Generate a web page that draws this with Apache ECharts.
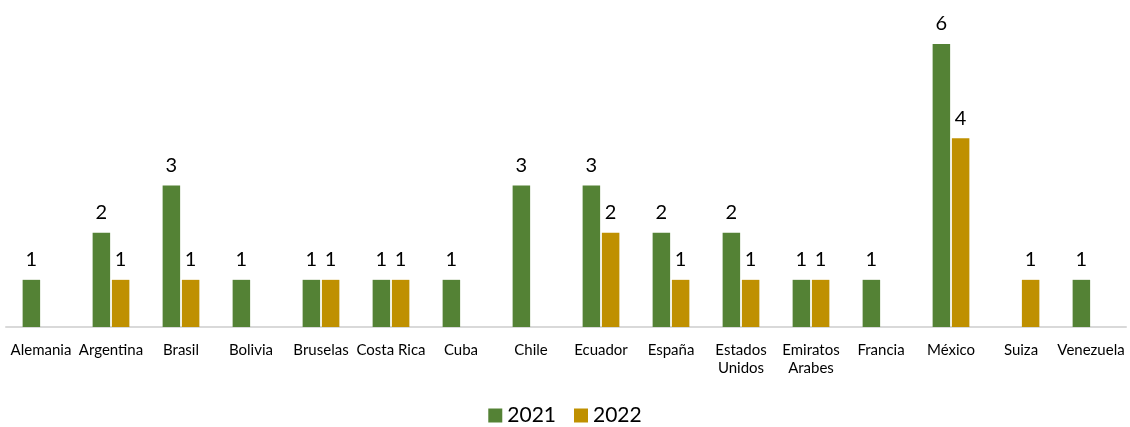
<!DOCTYPE html>
<html>
<head>
<meta charset="utf-8">
<script src="https://cdn.jsdelivr.net/npm/echarts@6/dist/echarts.min.js"></script>
<style>
  html, body { margin: 0; padding: 0; background: #fff; }
  #chart { width: 1130px; height: 427px; }
</style>
</head>
<body>
<div id="chart"></div>
<script>
const categories = ['Alemania', 'Argentina', 'Brasil', 'Bolivia', 'Bruselas', 'Costa Rica', 'Cuba', 'Chile',
  'Ecuador', 'España', 'Estados\nUnidos', 'Emiratos\nArabes', 'Francia', 'México', 'Suiza', 'Venezuela']
// null = sin dato (Excel no dibuja barra ni etiqueta)
const values2021 = [1, 2, 3, 1, 1, 1, 1, 3, 3, 2, 2, 1, 1, 6, null, 1]
const values2022 = [null, 1, 1, null, 1, 1, null, null, 2, 1, 1, 1, null, 4, 1, null]
const seriesNames = ['2021', '2022']
const colors = ['#548235', '#BF9000']

const font = 'Lato, "Liberation Sans", Arial, sans-serif'
const chart = echarts.init(document.getElementById('chart'))

const labelStyle = {
  show: true,
  position: 'top',
  distance: 10,
  fontSize: 20,
  color: '#000',
  fontFamily: font
}

chart.setOption({
  animation: false,
  color: colors,
  textStyle: { fontFamily: font },
  grid: { left: 6, right: 4, top: 44, bottom: 100 },
  legend: {
    bottom: -4,
    left: 'center',
    itemWidth: 14,
    itemHeight: 14,
    itemGap: 18,
    icon: 'rect',
    textStyle: { fontSize: 21, color: '#000', fontFamily: font },
    data: seriesNames
  },
  xAxis: {
    type: 'category',
    data: categories,
    axisLine: { lineStyle: { color: '#d9d9d9', width: 2 } },
    axisTick: { show: false },
    axisLabel: {
      interval: 0,
      margin: 14,
      fontSize: 15,
      lineHeight: 18,
      color: '#000',
      fontFamily: font
    }
  },
  yAxis: {
    type: 'value',
    min: 0,
    max: 6,
    show: false,
    splitLine: { show: false }
  },
  series: [
    {
      name: seriesNames[0],
      type: 'bar',
      data: values2021,
      barWidth: 17.5,
      barGap: '10%',
      label: labelStyle
    },
    {
      name: seriesNames[1],
      type: 'bar',
      data: values2022,
      barWidth: 17.5,
      barGap: '10%',
      label: labelStyle
    }
  ]
})
</script>
</body>
</html>
